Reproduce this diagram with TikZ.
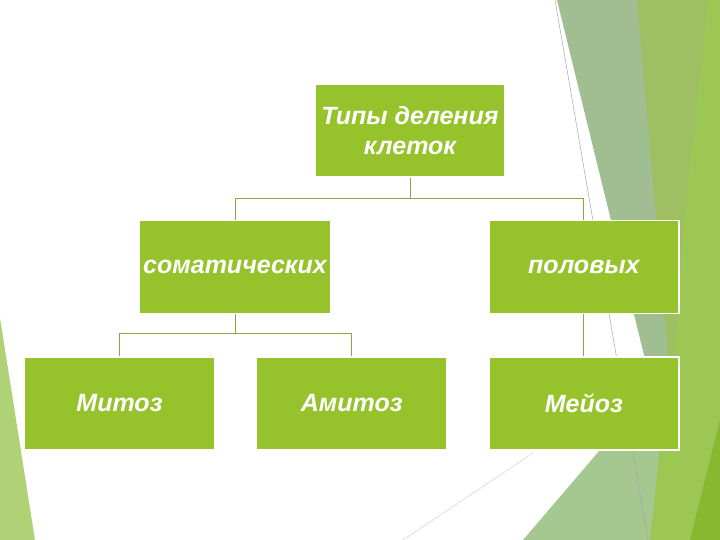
\documentclass[tikz,border=0pt]{standalone}
\usepackage{fontspec}
\setmainfont{Liberation Sans}
\usepackage{tikz}
\usetikzlibrary{positioning}
\definecolor{boxgreen}{HTML}{96C22C}
\definecolor{linegreen}{HTML}{8DA545}
\definecolor{greygreen}{HTML}{A0BE91}
\definecolor{yellowgreen}{HTML}{9EC063}
\definecolor{lightgreen}{HTML}{9CC754}
\definecolor{palegreen}{HTML}{A4C890}
\definecolor{darkgreen}{HTML}{87B930}
\tikzset{
  every picture/.style = {
    x = 1pt,
    y = -1pt,
  }
  ,
  divbox/.style = {
    rectangle,
    fill = boxgreen,
    draw = white,
    line width = 1.2pt,
    text = white,
    align = center,
    font = \fontsize{25}{30}\selectfont\bfseries\itshape,
    minimum width = 190pt,
    minimum height = 93pt
  }
  , % tree connectors
  link/.style = {
    draw = linegreen,
    line width = 0.9pt
  }
}
\begin{document}
\begin{tikzpicture}
    \useasboundingbox (0,0) rectangle (720,540);
    \fill[white] (0,0) rectangle (720,540);
    % facets in the background
    \fill[palegreen] (523,540) -- (600,450) -- (690,330) -- (662,540) -- cycle;
    \fill[lightgreen] (690,0) -- (720,0) -- (720,540) -- (650,540) -- (665,400) -- cycle;
    \fill[darkgreen] (690,540) -- (720,420) -- (720,540) -- cycle;
    \fill[greygreen] (557,0) -- (640,0) -- (676,357) -- (655,400) -- cycle;
    \fill[yellowgreen] (637,0) -- (708,0) -- (684,220) -- (672,400) -- cycle;
    \fill[lightgreen!80!white] (0,318) -- (35,540) -- (0,540) -- cycle;
    \draw[gray!70, line width=0.5pt] (555,0) -- (648,540);
    \draw[gray!35, line width=0.5pt] (533,453) -- (403,540);
    % the tree
    \node [divbox] (mitoz) at (119.5,403.5) {Митоз};
    \node [divbox, right = 41pt of mitoz] (amitoz) {Амитоз};
    \node [divbox, right = 41pt of amitoz] (meioz) {Мейоз};
    \node [divbox, above = 42pt of meioz] (polov) {половых};
    \node [divbox] (somat) at (235,267) {соматических};
    \node [divbox] (types) at (410,130.5) {Типы деления\\клеток};
    \draw [link] (types.south) -- ++(0,21) coordinate (bus1) -| (somat.north)
                 (bus1) -| (polov.north);
    \draw [link] (somat.south) -- ++(0,19) coordinate (bus2) -| (mitoz.north)
                 (bus2) -| (amitoz.north);
    \draw [link] (polov.south) -- (meioz.north);
\end{tikzpicture}
\end{document}
